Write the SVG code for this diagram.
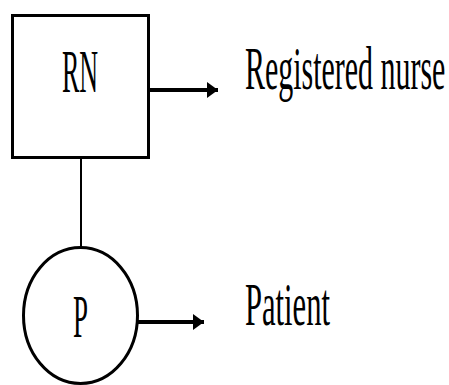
<svg xmlns="http://www.w3.org/2000/svg" width="449" height="385" viewBox="0 0 449 385">
<style>
.shape{fill:#fff;stroke:#000;stroke-width:3}
.lbl{font-family:'Liberation Serif','DejaVu Serif','Times New Roman',serif;font-size:62px;fill:#000}
.conn{stroke:#000;fill:none}
</style>
<defs>
<marker id="ah" markerUnits="userSpaceOnUse" markerWidth="12" markerHeight="18" refX="11" refY="9" orient="auto">
<path d="M0,1 L11,9 L0,17 Z" fill="#000"/>
</marker>
</defs>
<rect width="449" height="385" fill="#fff"/>
<g id="connectors">
<line class="conn" x1="81" y1="158" x2="81" y2="247" stroke-width="2"/>
<line class="conn" x1="149" y1="90" x2="218" y2="90" stroke-width="4" marker-end="url(#ah)"/>
<line class="conn" x1="138" y1="322" x2="204" y2="322" stroke-width="4" marker-end="url(#ah)"/>
</g>
<g id="node-rn">
<rect class="shape" x="12.5" y="15.5" width="136" height="142"/>
<text class="lbl" transform="translate(62,92) scale(0.42,1)" x="0" y="0">RN</text>
</g>
<g id="node-p">
<ellipse class="shape" cx="80.5" cy="315.5" rx="57" ry="68"/>
<text class="lbl" transform="translate(73,337) scale(0.435,1)" x="0" y="0">P</text>
</g>
<g id="label-rn">
<text class="lbl" transform="translate(245,89) scale(0.483,1)" x="0" y="0">Registered nurse</text>
</g>
<g id="label-p">
<text class="lbl" transform="translate(245,325) scale(0.494,1)" x="0" y="0">Patient</text>
</g>
</svg>
